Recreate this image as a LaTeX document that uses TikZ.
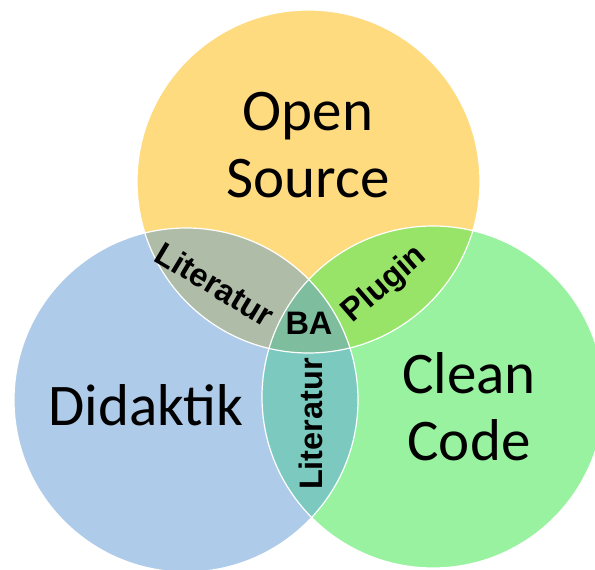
\documentclass[tikz,border=0pt]{standalone}
\usepackage{fontspec}
\setmainfont{Carlito}
\newfontfamily\labfont{Liberation Sans}
\definecolor{ctop}{RGB}{255,219,128}
\definecolor{cleft}{RGB}{174,203,234}
\definecolor{cright}{RGB}{152,242,160}
\definecolor{ctl}{RGB}{175,189,168}
\definecolor{ctr}{RGB}{152,228,104}
\definecolor{clr}{RGB}{124,202,191}
\definecolor{cmid}{RGB}{126,190,159}
\begin{document}
\begin{tikzpicture}[x=1pt,y=-1pt,
  bigtext/.style={font=\fontsize{59}{67}\selectfont, align=center, inner sep=0pt, text=black},
  smalltext/.style={font=\labfont\fontsize{32.5}{36}\selectfont\bfseries, inner sep=0pt, text=black},
  rim/.style={draw=white, line width=1.2pt}]
\useasboundingbox (0,0) rectangle (595,570);
\clip (0,0) rectangle (595,570);
\coordinate (T) at (308.5,181.5);
\coordinate (L) at (186,400);
\coordinate (R) at (433,397);
\def\rT{171.5}\def\rL{172}\def\rR{171}
\fill[ctop] (T) circle[radius=\rT];
\fill[cleft] (L) circle[radius=\rL];
\fill[cright] (R) circle[radius=\rR];
\begin{scope}\clip (T) circle[radius=\rT]; \fill[ctl] (L) circle[radius=\rL];\end{scope}
\begin{scope}\clip (T) circle[radius=\rT]; \fill[ctr] (R) circle[radius=\rR];\end{scope}
\begin{scope}\clip (L) circle[radius=\rL]; \fill[clr] (R) circle[radius=\rR];\end{scope}
\begin{scope}\clip (T) circle[radius=\rT]; \clip (L) circle[radius=\rL]; \fill[cmid] (R) circle[radius=\rR];\end{scope}
\draw[rim] (T) circle[radius=\rT];
\draw[rim] (L) circle[radius=\rL];
\draw[rim] (R) circle[radius=\rR];
\node[bigtext] (os) at (308,145) {Open\\Source};
\node[bigtext] (dk) at (146,405) {Didaktik};
\node[bigtext] (cc) at (469,407) {Clean\\Code};
\node[smalltext, rotate=-31] (lit1) at (215,284) {Literatur};
\node[smalltext, rotate=41] (plg) at (385,285) {Plugin};
\node[smalltext] (ba) at (309,323) {BA};
\node[smalltext, rotate=90] (lit2) at (311,424) {Literatur};
\end{tikzpicture}
\end{document}
